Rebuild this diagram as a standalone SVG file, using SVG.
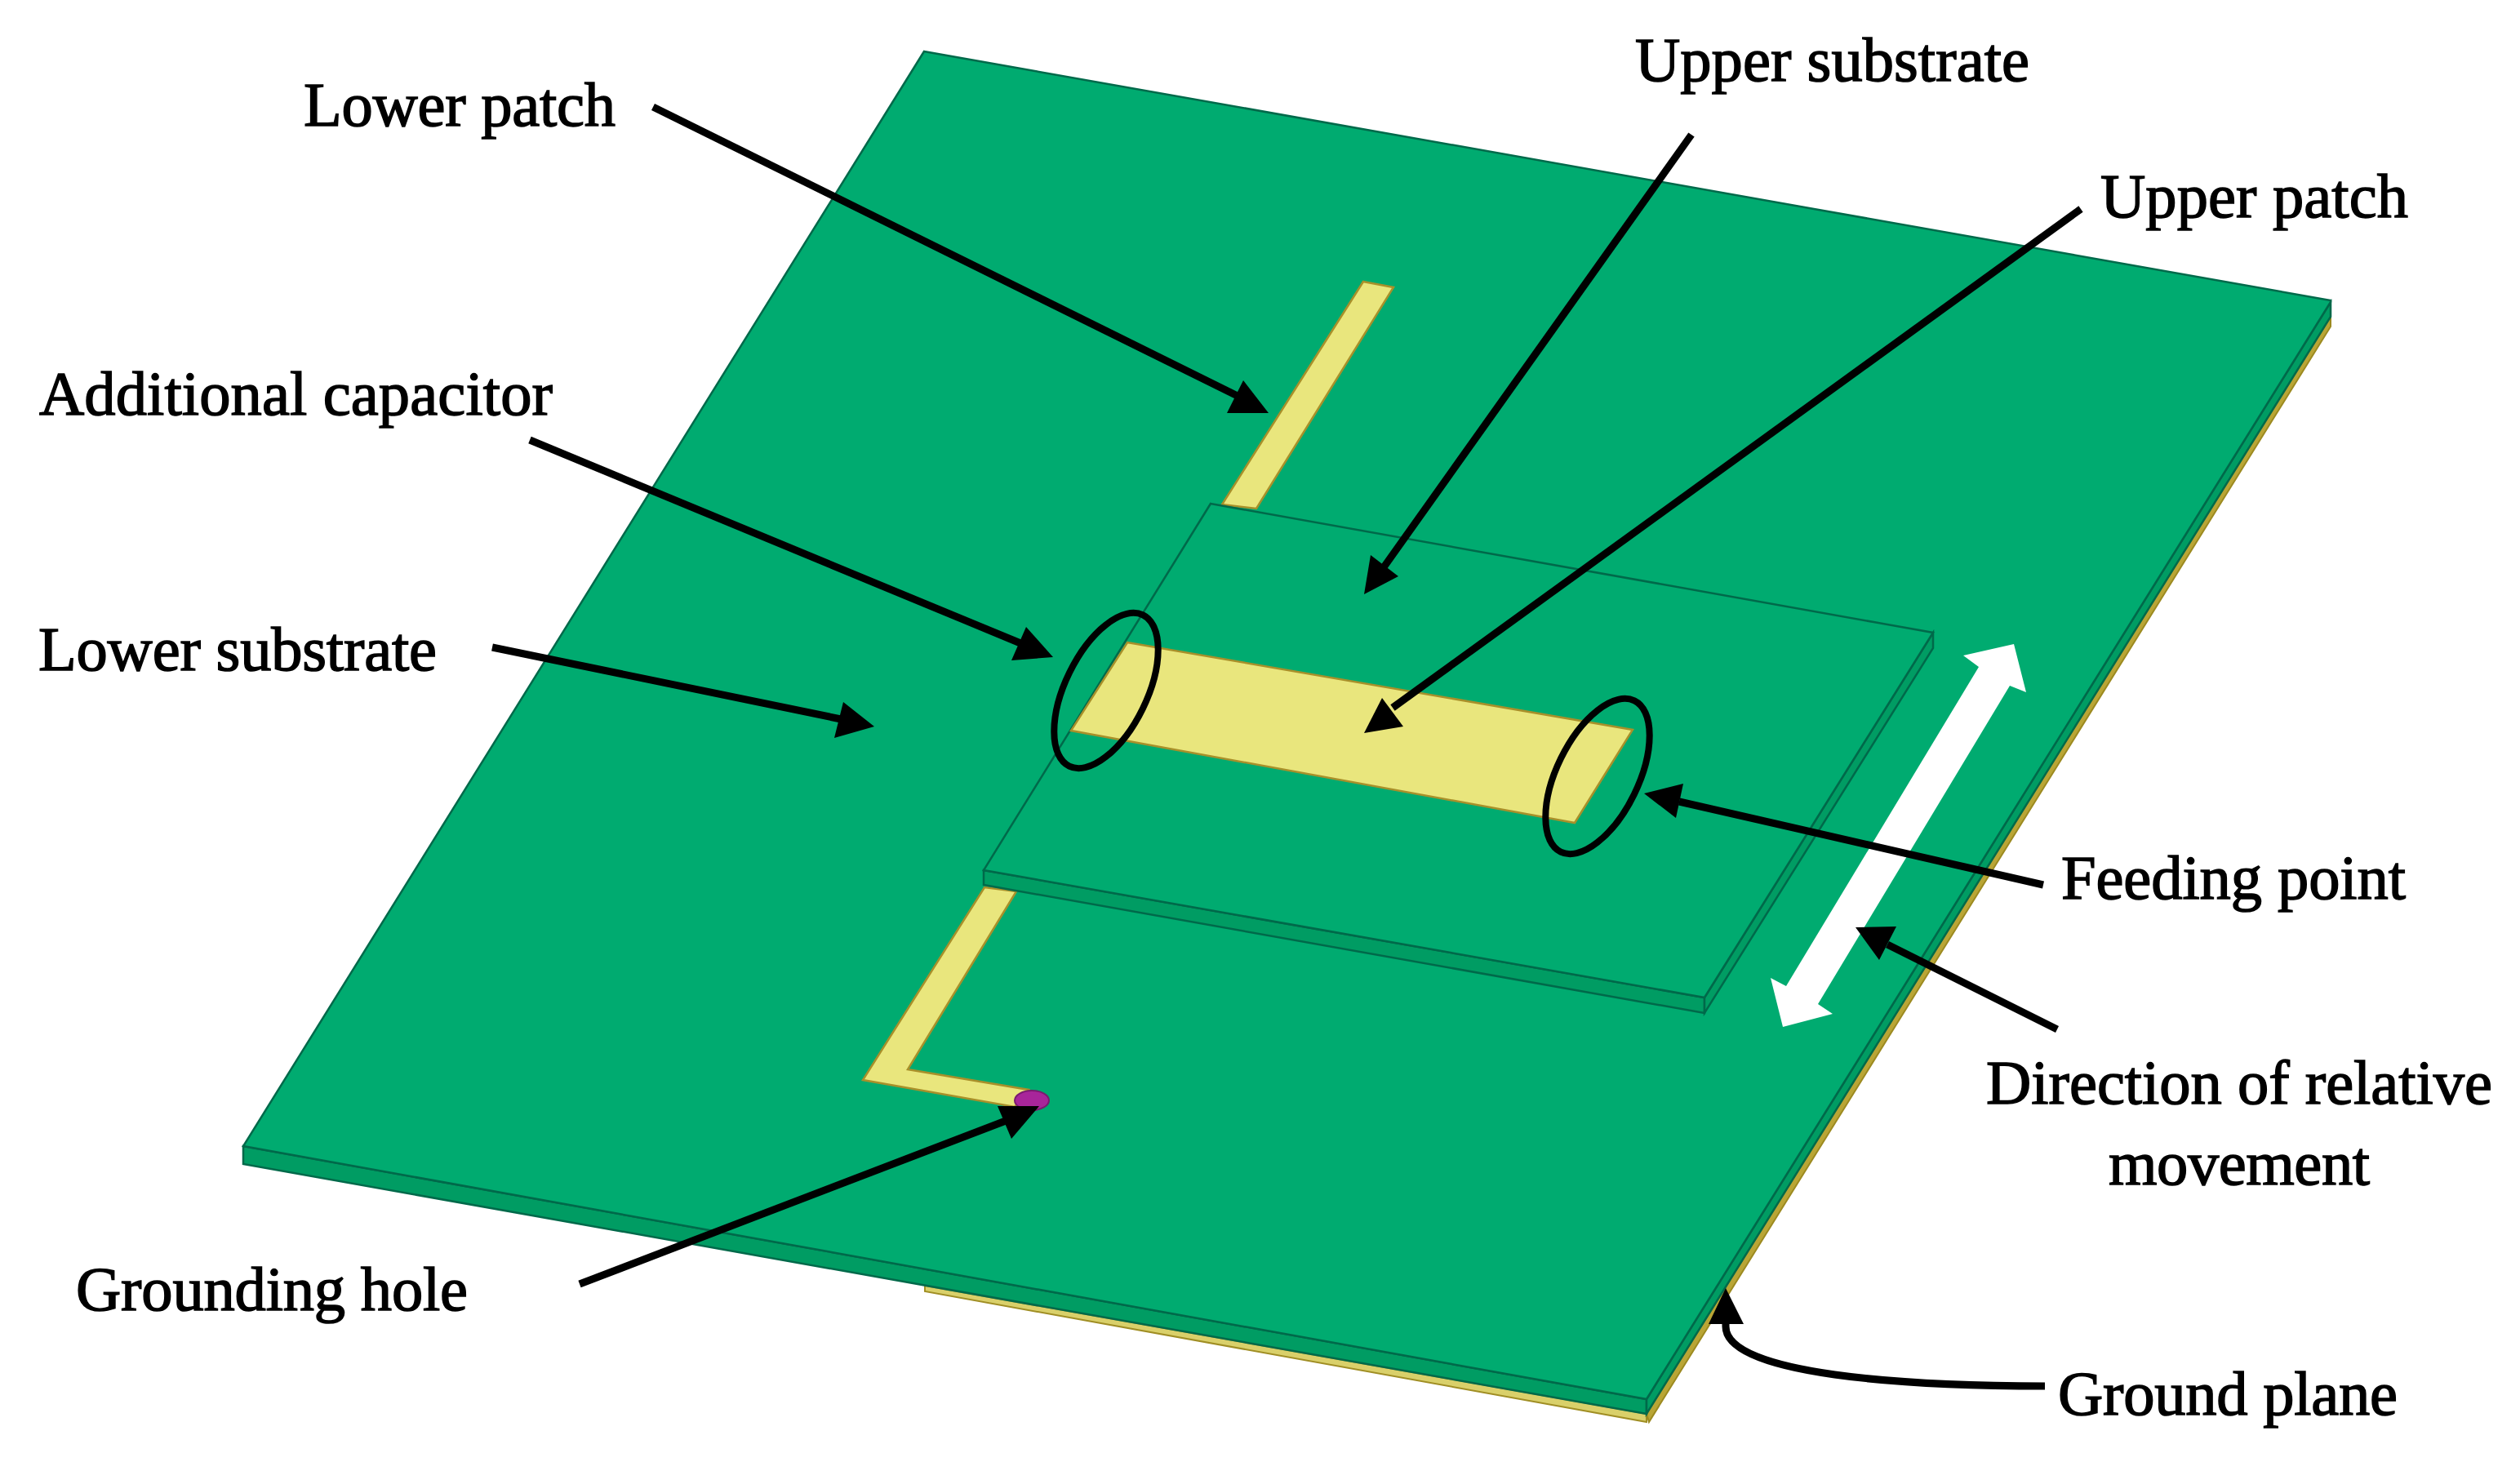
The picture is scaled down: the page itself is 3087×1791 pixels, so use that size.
<svg xmlns="http://www.w3.org/2000/svg" width="3087" height="1791" viewBox="0 0 3087 1791">
<style>
.t{font-family:"Liberation Serif","Times New Roman",serif;font-size:76.5px;fill:#000;stroke:#000;stroke-width:1.5}
.a{fill:none;stroke:#000;stroke-width:9}
.h{fill:#000}
.g{fill:#00ab70;stroke:#00694a;stroke-width:2.5}
.s{fill:#009c63;stroke:#00694a;stroke-width:2.5}
.y{fill:#e9e67d;stroke:#a8902a;stroke-width:2.5}
.e{fill:none;stroke:#000;stroke-width:8}
</style>
<rect width="3087" height="1791" fill="#fff"/>
<g id="ground-plane"><path d="M1133 1575L2017 1732L2017 1742L1133 1582Z" fill="#d9d06a" stroke="#a08e24" stroke-width="2"/><path d="M2855 386L2855 400L2020 1742L2017 1732Z" fill="#b9a535" stroke="#9c8a20" stroke-width="2"/></g>
<g id="lower-substrate">
<path class="s" d="M298 1404L2017 1714L2017 1732L298 1426Z"/>
<path class="s" d="M2017 1714L2855 370L2855 388L2017 1732Z"/>
<path class="g" d="M1132 63L2855 368L2855 370L2017 1714L298 1404Z"/>
</g>
<g id="lower-patch">
<path class="y" d="M1670 345L1707 352L1539 623L1497 618Z"/>
<path class="y" d="M1206 1087L1245 1092L1112 1310L1260 1335L1243 1356L1057 1323Z"/>
<ellipse cx="1264" cy="1348" rx="21" ry="12" fill="#a8259a" stroke="#7a1a70" stroke-width="2"/>
</g>
<g id="upper-substrate">
<path class="s" d="M1205 1066L2088 1222L2088 1241L1205 1084Z"/>
<path class="s" d="M2088 1222L2368 775L2368 794L2088 1241Z"/>
<path class="g" d="M1483 617L2368 775L2088 1222L1205 1066Z"/>
</g>
<g id="upper-patch"><path class="y" d="M1381 787L2000 894L1929 1008L1312 895Z"/></g>
<g id="rings">
<ellipse class="e" cx="1355" cy="846" rx="50" ry="103" transform="rotate(26 1355 846)"/>
<ellipse class="e" cx="1957" cy="951" rx="50" ry="103" transform="rotate(26 1957 951)"/>
</g>
<g id="direction-arrow"><path d="M2467 789L2482 848L2462 840L2227 1230L2245 1242L2184 1258L2169 1198L2188 1208L2424 817L2405 803Z" fill="#fff"/></g>
<g id="connectors">
<path class="a" d="M800 131L1520 487"/><path class="h" d="M1554 506L1523 466L1503 506Z"/>
<path class="a" d="M2072 165L1695 695"/><path class="h" d="M1671 728L1679 680L1713 706Z"/>
<path class="a" d="M2549 256L1706 867"/><path class="h" d="M1671 898L1693 855L1719 890Z"/>
<path class="a" d="M649 539L1255 790"/><path class="h" d="M1290 805L1257 768L1239 809Z"/>
<path class="a" d="M603 793L1040 883"/><path class="h" d="M1071 890L1033 860L1022 904Z"/>
<path class="a" d="M710 1573L1232 1373"/><path class="h" d="M1273 1355L1239 1395L1222 1355Z"/>
<path class="a" d="M2503 1084L2057 982"/><path class="h" d="M2014 972L2062 960L2053 1002Z"/>
<path class="a" d="M2520 1261L2312 1157"/><path class="h" d="M2273 1136L2323 1135L2302 1176Z"/>
<path class="a" d="M2505 1698C2340 1698 2114 1685 2114 1625L2114 1615"/><path class="h" d="M2114 1578L2136 1622L2093 1622Z"/>
</g>
<g id="labels">
<text class="t" x="372" y="154" textLength="382">Lower patch</text>
<text class="t" x="2003" y="99" textLength="483">Upper substrate</text>
<text class="t" x="2573" y="266" textLength="377">Upper patch</text>
<text class="t" x="48" y="508" textLength="629">Additional capacitor</text>
<text class="t" x="47" y="821" textLength="488">Lower substrate</text>
<text class="t" x="2525" y="1101" textLength="422">Feeding point</text>
<text class="t" x="2433" y="1352" textLength="620">Direction of relative</text>
<text class="t" x="2583" y="1451" textLength="320">movement</text>
<text class="t" x="93" y="1605" textLength="480">Grounding hole</text>
<text class="t" x="2521" y="1733" textLength="416">Ground plane</text>
</g>
</svg>
